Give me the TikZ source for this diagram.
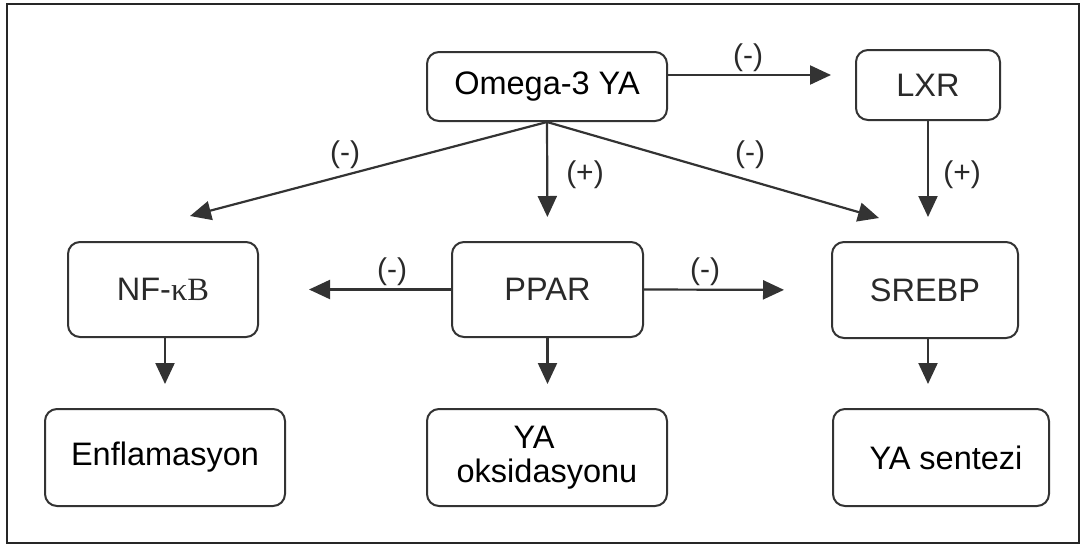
\documentclass[tikz,border=0pt]{standalone}
\usepackage{fontspec}
\setmainfont{Liberation Sans}
\newfontfamily\serifpart{Liberation Serif}
\usetikzlibrary{arrows.meta}
\definecolor{edge}{HTML}{333333}
\definecolor{soft}{HTML}{2A2A2A}
\tikzset{
  box/.style={draw=edge, line width=2pt, rounded corners=12pt, fill=white,
    inner sep=0pt, align=center, font=\fontsize{32.5}{34}\selectfont},
  greytext/.style={text=soft},
  link/.style={draw=edge, line width=2.2pt, -{Triangle[length=21pt,width=19pt]}},
  sign/.style={text=soft, font=\fontsize{30}{32}\selectfont, inner sep=0pt}
}
\begin{document}
\begin{tikzpicture}[x=1pt, y=-1pt]
  \useasboundingbox (0,0) rectangle (1083,547);
  % outer frame
  \draw[line width=2.5pt, draw=black!85] (7,4) rectangle (1079,543);

  % top row
  \node[box, minimum width=240pt, minimum height=69pt] (omega) at (547,86.5) {Omega-3 YA};
  \node[box, greytext, minimum width=144pt, minimum height=70pt] (lxr) at (928,85) {LXR};

  % middle row
  \node[box, greytext, minimum width=190pt, minimum height=95pt] (nfkb) at (163,289.5) {NF-{\serifpart κB}};
  \node[box, greytext, minimum width=191pt, minimum height=95pt] (ppar) at (547.5,289.5) {PPAR};
  \node[box, greytext, minimum width=186pt, minimum height=96pt] (srebp) at (925,290) {SREBP};

  % bottom row
  \node[box, minimum width=240pt, minimum height=97pt] (enfl) at (165,457.5) {Enflamasyon};
  \node[box, minimum width=240pt, minimum height=97pt] (oks) at (547,457.5) {YA\hspace*{26pt}\\oksidasyonu};
  \node[box, minimum width=216pt, minimum height=97pt] (sent) at (941,457.5) {\hspace*{10pt}YA sentezi};

  % free ends of the diagonal arrows
  \coordinate (nfin) at (190,216);
  \coordinate (srin) at (879,218);

  % connectors
  \draw[link, shorten >=24pt] ([yshift=11.5pt]omega.east) -- ([yshift=10pt]lxr.west);
  \draw[link] (omega.south) -- (nfin);
  \draw[link, shorten >=24pt] (omega.south) -- (ppar.north);
  \draw[link] (omega.south) -- (srin);
  \draw[link, shorten >=24pt] (lxr.south) -- (lxr.south |- srebp.north);
  \draw[link, shorten >=50pt] (ppar.west) -- (nfkb.east);
  \draw[link, shorten >=47pt] (ppar.east) -- (srebp.west);
  \draw[link, shorten >=24pt] ([xshift=2pt]nfkb.south) -- ([xshift=2pt]nfkb.south |- enfl.north);
  \draw[link, shorten >=24pt] (ppar.south) -- (ppar.south |- oks.north);
  \draw[link, shorten >=24pt] ([xshift=3pt]srebp.south) -- ([xshift=3pt]srebp.south |- sent.north);

  % signs
  \node[sign] (s1) at (748,58) {(-)};
  \node[sign] (s2) at (345,155) {(-)};
  \node[sign] (s3) at (585,175) {(+)};
  \node[sign] (s4) at (750,155) {(-)};
  \node[sign] (s5) at (962,175) {(+)};
  \node[sign] (s6) at (392,272) {(-)};
  \node[sign] (s7) at (705,272) {(-)};
\end{tikzpicture}
\end{document}
